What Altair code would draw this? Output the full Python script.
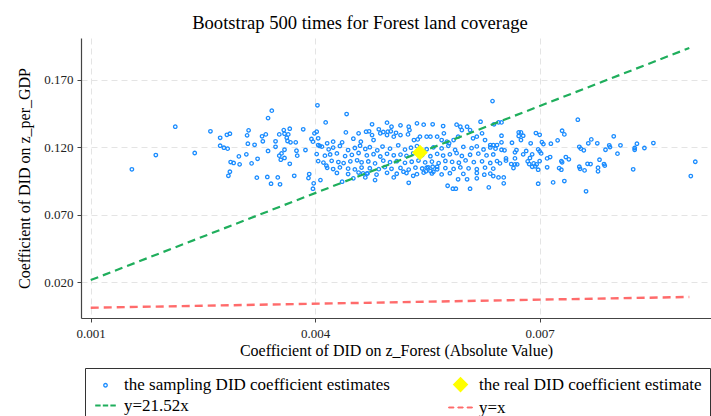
import altair as alt
import pandas as pd

FONT = "Liberation Serif"

# ---- bootstrap estimates (x = |DID on z_Forest|, y = DID on z_per_GDP) ----
boot_x = [
    0.00155, 0.00187, 0.00213, 0.00239, 0.0026, 0.00273, 0.00273, 0.00278, 0.00283, 0.00282,
    0.00286, 0.00287, 0.00291, 0.00286, 0.00284, 0.00298, 0.00299, 0.00308, 0.00315, 0.00309,
    0.00311, 0.0031, 0.00319, 0.00323, 0.00322, 0.00329, 0.00334, 0.0033, 0.00337, 0.00342,
    0.00337, 0.00336, 0.00341, 0.00347, 0.00347, 0.00352, 0.00358, 0.00359, 0.00364, 0.00366,
    0.00362, 0.00363, 0.00367, 0.00374, 0.00359, 0.00355, 0.00352, 0.00359, 0.00354, 0.00366,
    0.0035, 0.00353, 0.00372, 0.00375, 0.00376,
    # middle outliers
    0.00403, 0.00637, 0.00442, 0.00414, 0.00384, 0.00387, 0.00392, 0.00391, 0.00398, 0.00397,
    0.00407, 0.00415, 0.00436, 0.00451, 0.00467, 0.0047, 0.00464, 0.0048, 0.00505, 0.00525,
    0.00518, 0.00531, 0.00548, 0.00554, 0.00558, 0.00549, 0.00557, 0.00563, 0.00577, 0.00584,
    0.00588, 0.00607, 0.00632, 0.00591, 0.00603, 0.00616, 0.00626, 0.00638, 0.00645,
    # upper band
    0.00476, 0.00496, 0.00502, 0.00514, 0.00525, 0.00536, 0.00545, 0.00557, 0.00571, 0.00589,
    0.00594, 0.00603, 0.00621, 0.00645, 0.00639,
    0.00402, 0.00399, 0.00404, 0.00395, 0.00397, 0.00404, 0.00406, 0.00416, 0.00424, 0.00436,
    0.00441, 0.00451, 0.00458, 0.00461, 0.00468, 0.00472, 0.00476, 0.00478, 0.00485, 0.00487,
    0.00491, 0.00497, 0.00496, 0.00501, 0.00505, 0.00508, 0.00514, 0.00524, 0.00526, 0.00532,
    0.00537, 0.0054, 0.00549, 0.00554, 0.00563, 0.00569, 0.00572, 0.00576, 0.00579, 0.00585,
    0.00591, 0.00596, 0.00607, 0.00611, 0.00616, 0.00623, 0.00627, 0.00634, 0.00643, 0.00638,
    # dense core
    0.00409, 0.00418, 0.00424, 0.00433, 0.00444, 0.00453, 0.0046, 0.00467, 0.00473, 0.00483,
    0.0049, 0.005, 0.00511, 0.0052, 0.00528, 0.00536, 0.00549, 0.00558, 0.00569, 0.00578,
    0.00587, 0.00598, 0.00609, 0.00616, 0.00625, 0.00634, 0.00641,
    0.00402, 0.00413, 0.0042, 0.00429, 0.0044, 0.00449, 0.00458, 0.00469, 0.00478, 0.00487,
    0.00496, 0.00505, 0.00514, 0.00522, 0.00531, 0.00543, 0.00554, 0.00563, 0.00571, 0.0058,
    0.00589, 0.00596, 0.00607, 0.00618, 0.00629, 0.00638,
    0.00404, 0.00411, 0.00422, 0.00431, 0.00438, 0.00447, 0.00456, 0.00462, 0.00471, 0.0048,
    0.00491, 0.005, 0.00509, 0.0052, 0.00529, 0.00538, 0.00547, 0.00556, 0.00565, 0.00574,
    0.00583, 0.00592, 0.00601, 0.00612, 0.00623, 0.00634, 0.00643,
    0.00416, 0.00424, 0.00433, 0.00444, 0.00453, 0.00462, 0.00473, 0.00485, 0.00493, 0.00502,
    0.00514, 0.00525, 0.00534, 0.00543, 0.00551, 0.00563, 0.00574, 0.00585, 0.00594, 0.00605,
    0.00616, 0.00627, 0.00638,
    0.00429, 0.00444, 0.00458, 0.00469, 0.00482, 0.00496, 0.00509, 0.00522, 0.00536, 0.00545,
    0.00556, 0.00569, 0.0058, 0.00598, 0.00616, 0.00634,
    # right part
    0.00751, 0.00649, 0.0073, 0.00733, 0.00695, 0.007, 0.00672, 0.00675, 0.00672, 0.00678,
    0.00675, 0.00663, 0.00649, 0.00649, 0.00703, 0.00705, 0.00715, 0.00724, 0.00688, 0.00753,
    0.00755, 0.00759, 0.00765, 0.00769, 0.00777, 0.00799, 0.00793, 0.00794, 0.00788, 0.00808,
    0.00804, 0.00827, 0.00827, 0.0083, 0.0084, 0.00852, 0.00908, 0.00902, 0.00825, 0.0078,
    0.00786, 0.00787, 0.00778, 0.00778, 0.00764, 0.00768, 0.00753, 0.00754, 0.0076, 0.00762,
    0.00733, 0.00718, 0.00698, 0.00735, 0.00739, 0.00729, 0.0073, 0.00726, 0.00729, 0.0071,
    0.00714, 0.0071, 0.007, 0.00696, 0.00698, 0.00694, 0.0069, 0.00692, 0.00687, 0.00686,
    0.00684, 0.0069, 0.007, 0.00702, 0.00698, 0.00682, 0.00678, 0.00669, 0.00667, 0.00667,
    0.00655, 0.00655, 0.00662, 0.00667, 0.0067, 0.00665, 0.00647, 0.00652, 0.00652, 0.00649,
    0.00653,
]
boot_y = [
    0.1037, 0.1143, 0.1353, 0.1158, 0.1319, 0.1271, 0.1212, 0.1197, 0.119, 0.1293,
    0.1301, 0.1091, 0.1084, 0.1019, 0.0989, 0.1133, 0.1074, 0.1148, 0.1081, 0.1289,
    0.1326, 0.1227, 0.1219, 0.1115, 0.0975, 0.1282, 0.1296, 0.1245, 0.1417, 0.1472,
    0.1173, 0.098, 0.093, 0.1204, 0.1245, 0.1296, 0.1328, 0.1301, 0.1296, 0.1338,
    0.1271, 0.1247, 0.1237, 0.1237, 0.1182, 0.1155, 0.1138, 0.1121, 0.1108, 0.1078,
    0.0977, 0.0926, 0.0989, 0.1175, 0.1138,
    0.1512, 0.1543, 0.1447, 0.1385, 0.1334, 0.118, 0.1002, 0.0972, 0.0933, 0.0893,
    0.0957, 0.1064, 0.0945, 0.097, 0.0977, 0.1007, 0.1007, 0.0957, 0.0977, 0.0937,
    0.1019, 0.0989, 0.1022, 0.1024, 0.1019, 0.1049, 0.1056, 0.1056, 0.0915, 0.0893,
    0.0893, 0.0893, 0.0903, 0.0963, 0.0963, 0.097, 0.0997, 0.0987, 0.0977,
    0.1371, 0.1383, 0.1353, 0.1363, 0.1353, 0.1378, 0.1368, 0.1371, 0.1358, 0.1368,
    0.1353, 0.1353, 0.139, 0.1385, 0.1371,
    0.1316, 0.1304, 0.1267, 0.1262, 0.1242, 0.1217, 0.121, 0.123, 0.1242, 0.1237,
    0.1311, 0.1264, 0.1304, 0.1242, 0.1316, 0.1319, 0.1291, 0.1254, 0.1334, 0.1304,
    0.1314, 0.1316, 0.1291, 0.1319, 0.1279, 0.1308, 0.1291, 0.1296, 0.1328, 0.1254,
    0.1259, 0.1279, 0.1279, 0.1279, 0.1279, 0.1254, 0.1304, 0.1242, 0.123, 0.1254,
    0.1279, 0.1328, 0.1328, 0.1267, 0.1279, 0.1304, 0.1254, 0.1217, 0.1217, 0.1217,
    0.1205, 0.1185, 0.1198, 0.121, 0.118, 0.1195, 0.1212, 0.1188, 0.1201, 0.1178,
    0.1206, 0.119, 0.1215, 0.1183, 0.1197, 0.1209, 0.1186, 0.12, 0.1192, 0.1211,
    0.1181, 0.1203, 0.1194, 0.1207, 0.1184, 0.1199, 0.119,
    0.115, 0.1138, 0.1147, 0.1155, 0.1135, 0.1144, 0.1158, 0.114, 0.1149, 0.1132,
    0.1152, 0.1141, 0.1146, 0.1137, 0.1156, 0.1143, 0.1134, 0.1151, 0.1139, 0.1148,
    0.1157, 0.1136, 0.1145, 0.1153, 0.114, 0.1147,
    0.1098, 0.1087, 0.11, 0.1091, 0.1083, 0.1096, 0.1104, 0.1089, 0.1095, 0.1081,
    0.1101, 0.109, 0.1097, 0.1085, 0.1093, 0.1102, 0.1088, 0.1094, 0.1083, 0.1099,
    0.1092, 0.1086, 0.1103, 0.109, 0.1096, 0.1084, 0.1098,
    0.1048, 0.1039, 0.1051, 0.1042, 0.1036, 0.105, 0.1045, 0.1038, 0.1053, 0.1041,
    0.1047, 0.1035, 0.1049, 0.1043, 0.1052, 0.1037, 0.1046, 0.104, 0.1051, 0.1044,
    0.1038, 0.1049, 0.1042,
    0.101, 0.1002, 0.1013, 0.1005, 0.0998, 0.1011, 0.1004, 0.1009, 0.1001, 0.1012,
    0.1006, 0.0999, 0.1008, 0.1003, 0.101, 0.1005,
    0.1405, 0.1385, 0.1323, 0.1296, 0.1306, 0.1293, 0.1311, 0.1311, 0.1284, 0.1286,
    0.1254, 0.1234, 0.1286, 0.1237, 0.1239, 0.1224, 0.1227, 0.1252, 0.123, 0.1204,
    0.119, 0.1178, 0.123, 0.1259, 0.123, 0.1282, 0.1215, 0.1202, 0.1182, 0.1215,
    0.1153, 0.1195, 0.1182, 0.1227, 0.1195, 0.1232, 0.1093, 0.0987, 0.1037, 0.1108,
    0.1076, 0.1064, 0.1049, 0.1022, 0.1078, 0.1076, 0.1056, 0.1041, 0.1029, 0.0874,
    0.095, 0.094, 0.093, 0.1128, 0.1111, 0.1098, 0.1089, 0.1046, 0.1034, 0.1052,
    0.1128, 0.1118, 0.1098, 0.1074, 0.1034, 0.1059, 0.1056, 0.1081, 0.1121, 0.1076,
    0.1096, 0.1148, 0.117, 0.1155, 0.1185, 0.1173, 0.1148, 0.118, 0.1163, 0.1118,
    0.1118, 0.1101, 0.1076, 0.1074, 0.1074, 0.1046, 0.1081, 0.0977, 0.0933, 0.1182,
    0.1178,
]

# real estimate
real_x = [0.0054]
real_y = [0.1162]

# reference lines (endpoints)
line_x = [0.001, 0.009]
fit_y = [0.02152, 0.19368]   # y = 21.52x
eq_y = [0.001, 0.009]        # y = x

S1 = "the sampling DID coefficient estimates"
S2 = "the real DID coefficient estimate"
S3 = "y=21.52x"
S4 = "y=x"
series_order = [S1, S2, S3, S4]

BLUE = "#1a8cff"
YELLOW = "#ffff00"
GREEN = "#1fae5c"
RED = "#ff6b6b"

n = min(len(boot_x), len(boot_y))
boot_df = pd.DataFrame({"x": boot_x[:n], "y": boot_y[:n], "series": [S1] * n})
real_df = pd.DataFrame({"x": real_x, "y": real_y, "series": [S2]})
fit_df = pd.DataFrame({"x": line_x, "y": fit_y})
eq_df = pd.DataFrame({"x": line_x, "y": eq_y})

xscale = alt.Scale(domain=[0.00087, 0.00929], nice=False, zero=False)
yscale = alt.Scale(domain=[-0.0066, 0.2011], nice=False, zero=False)

xenc = alt.X("x:Q", scale=xscale, title="Coefficient of DID on z_Forest (Absolute Value)",
             axis=alt.Axis(values=[0.001, 0.004, 0.007], format=".3f"))
yenc = alt.Y("y:Q", scale=yscale, title="Coefficient of DID on z_per_GDP",
             axis=alt.Axis(values=[0.02, 0.07, 0.12, 0.17], format=".3f"))

# three filled dashes, used as the legend symbol of the dashed lines
DASHPATH = ("M-1,-0.04H-0.56V0.04H-1Z"
            "M-0.22,-0.04H0.22V0.04H-0.22Z"
            "M0.56,-0.04H1V0.04H0.56Z")

legend = alt.Legend(
    title=None, orient="none", legendX=4, legendY=330, columns=2, direction="horizontal",
    columnPadding=56, rowPadding=1, labelFont=FONT, labelFontSize=17,
    labelColor="black", labelOffset=6, padding=8, strokeColor="#333333",
    fillColor="white", labelLimit=500, symbolOpacity=1, symbolStrokeWidth=1.3,
)

shared = dict(
    shape=alt.Shape("series:N", scale=alt.Scale(domain=series_order,
                    range=["circle", "diamond", DASHPATH, DASHPATH]), legend=legend),
    stroke=alt.Stroke("series:N", scale=alt.Scale(domain=series_order,
                      range=[BLUE, YELLOW, GREEN, RED]), legend=legend),
    fill=alt.Fill("series:N", scale=alt.Scale(domain=series_order,
                  range=["transparent", YELLOW, GREEN, RED]), legend=legend),
    size=alt.Size("series:N", scale=alt.Scale(domain=series_order,
                  range=[12, 560, 1100, 1100]), legend=legend),
    strokeWidth=alt.StrokeWidth("series:N", scale=alt.Scale(domain=series_order,
                  range=[1.3, 1, 1.3, 1.3]), legend=legend),
)

red_line = alt.Chart(eq_df).mark_line(color=RED, strokeWidth=2.4, strokeDash=[8, 5]).encode(x=xenc, y=yenc)
points = alt.Chart(boot_df).mark_point(opacity=1).encode(x=xenc, y=yenc, **shared)
green_line = alt.Chart(fit_df).mark_line(color=GREEN, strokeWidth=2.2, strokeDash=[8, 5]).encode(x=xenc, y=yenc)
diamond = alt.Chart(real_df).mark_point(opacity=1).encode(x=xenc, y=yenc, **shared)

chart = alt.layer(red_line, points, green_line, diamond).properties(
    width=630, height=280,
    autosize=alt.AutoSizeParams(type="none"),
    padding={"left": 81, "top": 38, "right": 0, "bottom": 98},
    title=alt.TitleParams("Bootstrap 500 times for Forest land coverage", font=FONT,
                          fontSize=18.6, fontWeight="normal", color="black", offset=5, dx=-36),
).configure_view(stroke=None).configure_axis(
    labelFont=FONT, labelFontSize=13, labelColor="#222", titleFont=FONT, titleFontSize=16,
    titleFontWeight="normal", titleColor="black", domainColor="#444", domainWidth=1.2,
    tickColor="#444", tickSize=4, gridColor="#e4e4e4", gridDash=[6, 4], gridWidth=1,
).configure_axisY(labelAngle=0, titlePadding=11, labelPadding=4).configure_axisX(titlePadding=2, labelPadding=5)

chart.save("out.html", embed_options={"renderer": "svg", "actions": False})
